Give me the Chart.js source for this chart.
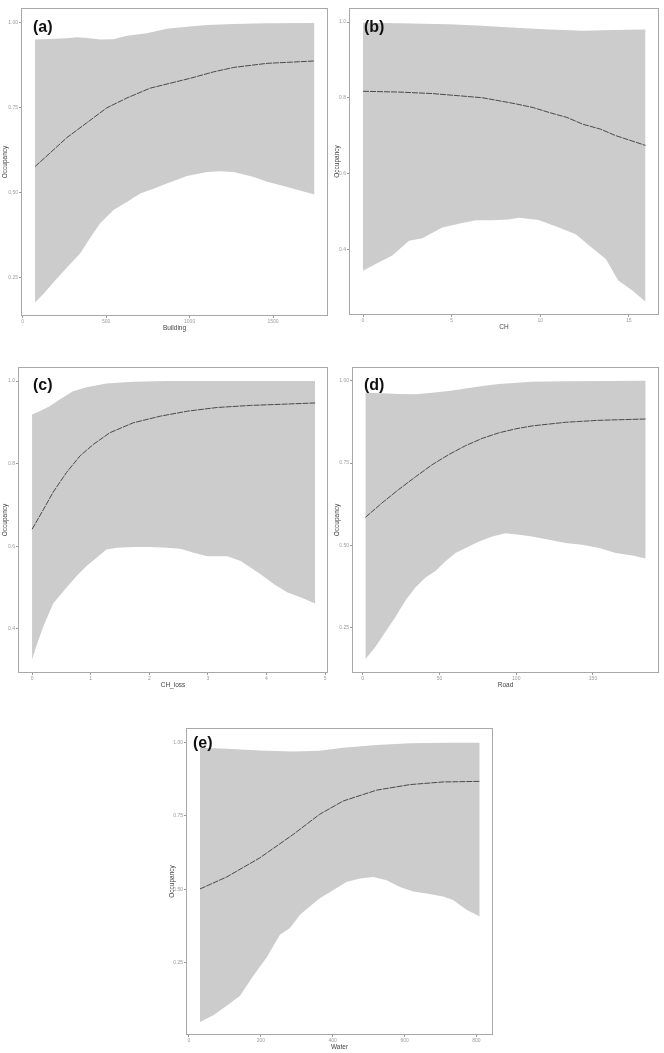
<!DOCTYPE html>
<html>
<head>
<meta charset="utf-8">
<script src="https://cdn.jsdelivr.net/npm/chart.js"></script>
<style>
  body { margin: 0; background: #fff; }
  #page { position: relative; width: 664px; height: 1053px; overflow: hidden; }
  #page canvas { position: absolute; }
  .tag { position: absolute; font: bold 16px "Liberation Sans", Arial, sans-serif; line-height: 16px; color: #111; }
</style>
</head>
<body>
<div id="page"></div>
<script>
// Occupancy response curves: [x, occupancy]
const buildingUpper = [[74,.951],[164,.953],[264,.955],[324,.958],[404,.955],[464,.951],[544,.952],[624,.962],[744,.970],[864,.983],[984,.989],[1104,.994],[1264,.997],[1464,.999],[1748,1.0]];
const buildingMean  = [[74,.577],[164,.617],[264,.662],[384,.706],[504,.750],[624,.779],[764,.808],[1004,.837],[1144,.856],[1264,.869],[1464,.881],[1748,.888]];
const buildingLower = [[74,.177],[124,.202],[184,.236],[264,.279],[344,.321],[404,.367],[464,.410],[544,.449],[624,.473],[704,.498],[784,.512],[864,.527],[984,.549],[1104,.561],[1184,.563],[1264,.561],[1384,.546],[1464,.532],[1584,.517],[1748,.495]];

const chUpper = [[0,.998],[2.0,.997],[4.85,.994],[6.7,.990],[8.6,.985],[10.5,.980],[12.4,.977],[14.2,.979],[15.94,.980]];
const chMean  = [[0,.817],[2.0,.815],[3.9,.811],[6.73,.800],[8.6,.784],[9.6,.774],[10.5,.761],[11.5,.748],[12.4,.730],[13.4,.717],[14.25,.700],[15.94,.674]];
const chLower = [[0,.343],[0.71,.361],[1.65,.383],[2.6,.422],[3.35,.429],[4.47,.457],[5.4,.467],[6.35,.476],[7.3,.476],[8.2,.478],[8.8,.483],[9.9,.477],[11.05,.457],[12.0,.439],[12.9,.404],[13.7,.374],[14.4,.317],[15.2,.291],[15.94,.261]];

const chLossUpper = [[0,.919],[0.13,.927],[0.30,.939],[0.47,.955],[0.70,.975],[0.93,.985],[1.27,.994],[1.73,.998],[2.3,1.0],[4.83,1.0]];
const chLossMean  = [[0,.641],[0.19,.688],[0.36,.731],[0.59,.779],[0.82,.819],[1.05,.847],[1.33,.875],[1.73,.899],[2.19,.915],[2.65,.927],[3.16,.936],[3.73,.941],[4.3,.944],[4.83,.947]];
const chLossLower = [[0,.325],[0.07,.357],[0.19,.405],[0.36,.461],[0.59,.500],[0.76,.528],[0.93,.552],[1.1,.572],[1.27,.592],[1.45,.596],[1.73,.598],[2.02,.598],[2.3,.596],[2.53,.594],[2.76,.584],[2.99,.576],[3.33,.576],[3.56,.564],[3.9,.532],[4.13,.508],[4.36,.488],[4.59,.476],[4.83,.461]];

const roadUpper = [[1.7,.964],[12.6,.962],[23.5,.960],[34.3,.959],[45.2,.964],[56,.969],[67,.977],[77.8,.984],[88.7,.990],[110,.997],[132,.999],[184.3,1.0]];
const roadMean  = [[1.7,.585],[12.6,.629],[23.5,.670],[34.3,.708],[45.2,.745],[56.1,.776],[67,.803],[77.8,.825],[88.7,.842],[99.6,.854],[110.4,.863],[132.2,.874],[153.9,.880],[184.3,.884]];
const roadLower = [[1.7,.154],[8.3,.192],[14.8,.237],[21.3,.282],[27.8,.332],[34.3,.372],[40.9,.402],[47.4,.422],[53.9,.452],[60.4,.477],[67,.492],[75.7,.512],[84.3,.527],[93,.537],[101.7,.532],[110.4,.527],[121.3,.517],[132.2,.507],[143,.502],[154,.492],[164.8,.477],[175.7,.469],[184.3,.460]];

const waterUpper = [[30.6,.983],[105,.979],[197,.973],[290,.970],[364,.972],[429,.983],[522,.992],[615,.998],[707,1.0],[809,1.0]];
const waterMean  = [[30.6,.501],[105,.542],[197,.607],[290,.687],[364,.756],[429,.801],[522,.838],[615,.857],[707,.866],[809,.868]];
const waterLower = [[30.6,.047],[67.7,.070],[105,.103],[142,.137],[179,.205],[216,.267],[253,.345],[281,.368],[309,.413],[336,.441],[364,.469],[401,.497],[438,.525],[476,.537],[513,.542],[550,.531],[587,.508],[624,.492],[661,.486],[707,.475],[735,.463],[772,.430],[809,.407]];

// tick labels
const buildingTicks = [0, 500, 1000, 1500];
const chTicks       = [0, 5, 10, 15];
const chLossTicks   = [0, 1, 2, 3, 4, 5];
const roadTicks     = [0, 50, 100, 150];
const waterTicks    = [0, 200, 400, 600, 800];
const occQuarter    = [0.25, 0.50, 0.75, 1.00];
const occFifth      = [0.4, 0.6, 0.8, 1.0];

// layout of the five panels: frame box [left, top, right, bottom], y-axis room, tag position
const panels = [
  { tag: '(a)', xTitle: 'Building', upper: buildingUpper, mean: buildingMean, lower: buildingLower,
    xTicks: buildingTicks, yTicks: occQuarter, yDigits: 2, x: [-10, 1829], y: [0.137, 1.044],
    box: [21, 4, 328, 316], yw: 21, tagAt: [33, 18.5] },
  { tag: '(b)', xTitle: 'CH', upper: chUpper, mean: chMean, lower: chLower,
    xTicks: chTicks, yTicks: occFifth, yDigits: 1, x: [-0.79, 16.7], y: [0.226, 1.037],
    box: [349, 4, 659, 315], yw: 17, tagAt: [364, 18.5] },
  { tag: '(c)', xTitle: 'CH_loss', upper: chLossUpper, mean: chLossMean, lower: chLossLower,
    xTicks: chLossTicks, yTicks: occFifth, yDigits: 1, x: [-0.24, 5.05], y: [0.293, 1.034],
    box: [18, 363, 328, 673], yw: 18, tagAt: [33, 376.5] },
  { tag: '(d)', xTitle: 'Road', upper: roadUpper, mean: roadMean, lower: roadLower,
    xTicks: roadTicks, yTicks: occQuarter, yDigits: 2, x: [-7, 193], y: [0.112, 1.042],
    box: [352, 363, 659, 673], yw: 20, tagAt: [364, 376.5] },
  { tag: '(e)', xTitle: 'Water', upper: waterUpper, mean: waterMean, lower: waterLower,
    xTicks: waterTicks, yTicks: occQuarter, yDigits: 2, x: [-8.3, 846], y: [0.003, 1.05],
    box: [186, 724, 493, 1035], yw: 19, tagAt: [193, 735] },
];

const X_ROOM = 18;
const FONT = '"Liberation Sans", Arial, sans-serif';

const framePlugin = {
  id: 'frame',
  afterDraw(chart) {
    const { ctx, chartArea: a } = chart;
    ctx.save();
    ctx.strokeStyle = '#a8a8a8';
    ctx.lineWidth = 1;
    ctx.strokeRect(a.left + 0.5, a.top + 0.5, a.right - a.left - 1, a.bottom - a.top - 1);
    ctx.restore();
  }
};

const toXY = pts => pts.map(([x, y]) => ({ x, y }));
const page = document.getElementById('page');

panels.forEach(p => {
  const [L, T, R, B] = p.box;
  const canvas = document.createElement('canvas');
  canvas.width = R - L + p.yw;
  canvas.height = B - T + X_ROOM;
  canvas.style.left = (L - p.yw) + 'px';
  canvas.style.top = T + 'px';
  page.appendChild(canvas);

  const tag = document.createElement('div');
  tag.className = 'tag';
  tag.textContent = p.tag;
  tag.style.left = p.tagAt[0] + 'px';
  tag.style.top = p.tagAt[1] + 'px';
  page.appendChild(tag);

  new Chart(canvas, {
    type: 'line',
    data: {
      datasets: [
        // mean first so it is painted on top of the band
        { data: toXY(p.mean), fill: false, borderColor: '#4a4a4a', borderWidth: 1,
          borderDash: [6, 1], pointRadius: 0 },
        { data: toXY(p.upper), fill: '+1', backgroundColor: '#cccccc', borderWidth: 0, pointRadius: 0 },
        { data: toXY(p.lower), fill: false, borderWidth: 0, pointRadius: 0 },
      ],
    },
    options: {
      responsive: false,
      animation: false,
      events: [],
      layout: { padding: 0, autoPadding: false },
      elements: { line: { tension: 0 } },
      plugins: { legend: { display: false }, tooltip: { enabled: false } },
      scales: {
        x: {
          type: 'linear', min: p.x[0], max: p.x[1],
          afterBuildTicks: s => { s.ticks = p.xTicks.map(v => ({ value: v })); },
          afterFit: s => { s.height = X_ROOM; },
          ticks: { color: '#9a9a9a', font: { family: FONT, size: 5 }, padding: 1, maxRotation: 0, autoSkip: false,
                   callback: v => String(v) },
          grid: { drawOnChartArea: false, drawTicks: true, tickLength: 2, color: '#999' },
          border: { display: false },
          title: { display: true, text: p.xTitle, color: '#444', font: { family: FONT, size: 6.5 },
                   padding: { top: 0, bottom: 2 } },
        },
        y: {
          type: 'linear', min: p.y[0], max: p.y[1],
          afterBuildTicks: s => { s.ticks = p.yTicks.map(v => ({ value: v })); },
          afterFit: s => { s.width = p.yw; },
          ticks: { color: '#9a9a9a', font: { family: FONT, size: 5 }, padding: 1, autoSkip: false,
                   callback: v => Number(v).toFixed(p.yDigits) },
          grid: { drawOnChartArea: false, drawTicks: true, tickLength: 2, color: '#999' },
          border: { display: false },
          title: { display: true, text: 'Occupancy', color: '#444', font: { family: FONT, size: 6.5 },
                   padding: { top: 1, bottom: 0 } },
        },
      },
    },
    plugins: [framePlugin],
  });
});
</script>
</body>
</html>
